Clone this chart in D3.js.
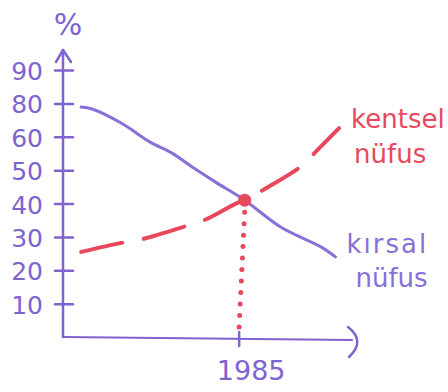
<!DOCTYPE html>
<html>
<head>
<meta charset="utf-8">
<script src="https://cdn.jsdelivr.net/npm/d3@7"></script>
<style>
  html, body { margin: 0; padding: 0; background: #fff; }
  text { font-family: "DejaVu Sans", sans-serif; }
</style>
</head>
<body>
<div id="chart"></div>
<script>
// DATA
// y axis tick labels, as written on the sketch (70 was skipped by hand)
var yTickValues = [10, 20, 30, 40, 50, 60, 70, 80];
var yTickLabels = ["10", "20", "30", "40", "50", "60", "80", "90"];
var xTickValues = [1985];

// kırsal nüfus (rural population, %)
var ruralYears  = [1940, 1943, 1951, 1959, 1965, 1971, 1977, 1985, 1995, 2006, 2010];
var ruralValues = [68.9, 68.3, 64.1, 58.4, 55.1, 50.6, 46.4, 41.0, 32.9, 27.0, 24.0];

// kentsel nüfus (urban population, %)
var urbanYears  = [1940, 1951, 1957, 1969, 1974, 1983, 1985, 1990, 2001, 2005, 2011];
var urbanValues = [25.5, 28.2, 29.4, 33.3, 35.1, 40.2, 41.0, 44.0, 51.5, 56.0, 62.6];

var crossYear = 1985,
    crossValue = 41.0;

// SIZES
var width = 448,
    height = 392;

var purple = "#8a6fd6",
    axisPurple = "#8063cf",
    red = "#e8485c";

var x = d3.scaleLinear().domain([1935, 2014]).range([63, 350]);
var y = d3.scaleLinear().domain([0, 80]).range([337, 70]);

var svg = d3.select("#chart").append("svg")
    .attr("width", width)
    .attr("height", height);

// axis lines with hand drawn arrows
var y0 = y(0);
svg.append("path")
    .attr("d", "M" + x(1935) + "," + y0 + "V50")
    .attr("fill", "none")
    .attr("stroke", axisPurple)
    .attr("stroke-width", 2.5)
    .attr("stroke-linecap", "round");
svg.append("path")
    .attr("d", "M" + (x(1935) - 7) + ",62L" + x(1935) + ",50L" + (x(1935) + 8) + ",62")
    .attr("fill", "none")
    .attr("stroke", axisPurple)
    .attr("stroke-width", 2.5)
    .attr("stroke-linecap", "round")
    .attr("stroke-linejoin", "round");
svg.append("path")
    .attr("d", "M" + x(1935) + "," + y0 + "L352," + (y0 + 3))
    .attr("fill", "none")
    .attr("stroke", axisPurple)
    .attr("stroke-width", 2)
    .attr("stroke-linecap", "round");
svg.append("path")
    .attr("d", "M348," + (y0 - 10) + "Q366," + (y0 + 4) + " 349," + (y0 + 20))
    .attr("fill", "none")
    .attr("stroke", axisPurple)
    .attr("stroke-width", 2.5)
    .attr("stroke-linecap", "round");

// y axis ticks
var yAxis = svg.append("g")
    .attr("transform", "translate(" + x(1935) + ",0)")
    .call(d3.axisLeft(y)
        .tickValues(yTickValues)
        .tickFormat(function(d, i) { return yTickLabels[i]; })
        .tickSize(8));
yAxis.select(".domain").remove();
yAxis.selectAll(".tick line")
    .attr("x1", -8)
    .attr("x2", 10)
    .attr("stroke", axisPurple)
    .attr("stroke-width", 2.5)
    .attr("stroke-linecap", "round");
yAxis.selectAll(".tick text")
    .attr("x", -20)
    .attr("dy", "0.38em")
    .attr("fill", axisPurple)
    .style("font-size", "25px");

// x axis tick
var xAxis = svg.append("g")
    .attr("transform", "translate(0," + (y0 + 1) + ")")
    .call(d3.axisBottom(x)
        .tickValues(xTickValues)
        .tickFormat(d3.format("d"))
        .tickSize(8));
xAxis.select(".domain").remove();
xAxis.selectAll(".tick line")
    .attr("y1", -6)
    .attr("y2", 8)
    .attr("transform", "translate(-6,0)")
    .attr("stroke", axisPurple)
    .attr("stroke-width", 2.5)
    .attr("stroke-linecap", "round");
xAxis.selectAll(".tick text")
    .attr("y", 42)
    .attr("dy", 0)
    .attr("dx", 6)
    .attr("fill", axisPurple)
    .style("font-size", "27px");

// % label
svg.append("text")
    .attr("x", x(1935) + 5)
    .attr("y", 35)
    .attr("text-anchor", "middle")
    .attr("fill", axisPurple)
    .style("font-size", "30px")
    .text("%");

var line = d3.line()
    .x(function(d) { return x(d[0]); })
    .y(function(d) { return y(d[1]); })
    .curve(d3.curveCatmullRom);

var rural = d3.zip(ruralYears, ruralValues),
    urban = d3.zip(urbanYears, urbanValues);

// dotted drop line from the crossing point
svg.append("line")
    .attr("x1", x(crossYear))
    .attr("y1", y(crossValue) + 12)
    .attr("x2", x(crossYear) - 6)
    .attr("y2", y0)
    .attr("stroke", red)
    .attr("stroke-width", 5)
    .attr("stroke-linecap", "round")
    .attr("stroke-dasharray", "0 11.5");

// rural line
svg.append("path")
    .datum(rural)
    .attr("d", line)
    .attr("fill", "none")
    .attr("stroke", purple)
    .attr("stroke-width", 3)
    .attr("stroke-linecap", "round");

// urban dashed line
svg.append("path")
    .datum(urban)
    .attr("d", line)
    .attr("fill", "none")
    .attr("stroke", red)
    .attr("stroke-width", 4)
    .attr("stroke-linecap", "round")
    .attr("stroke-dasharray", "42 22");

// crossing dot
svg.append("circle")
    .attr("cx", x(crossYear))
    .attr("cy", y(crossValue))
    .attr("r", 6.5)
    .attr("fill", red);

// series labels
var urbanEnd = urban[urban.length - 1],
    ruralEnd = rural[rural.length - 1];

var urbanLabel = svg.append("text")
    .attr("fill", red)
    .style("font-size", "26px");
urbanLabel.append("tspan")
    .attr("x", x(urbanEnd[0]) + 12)
    .attr("y", y(urbanEnd[1]))
    .text("kentsel");
urbanLabel.append("tspan")
    .attr("x", x(urbanEnd[0]) + 15)
    .attr("dy", 35)
    .text("nüfus");

var ruralLabel = svg.append("text")
    .attr("fill", purple)
    .style("font-size", "26px");
ruralLabel.append("tspan")
    .attr("x", x(ruralEnd[0]) + 11)
    .attr("y", y(ruralEnd[1]) - 4)
    .attr("letter-spacing", 2)
    .text("kırsal");
ruralLabel.append("tspan")
    .attr("x", x(ruralEnd[0]) + 20)
    .attr("dy", 34)
    .text("nüfus");
</script>
</body>
</html>
